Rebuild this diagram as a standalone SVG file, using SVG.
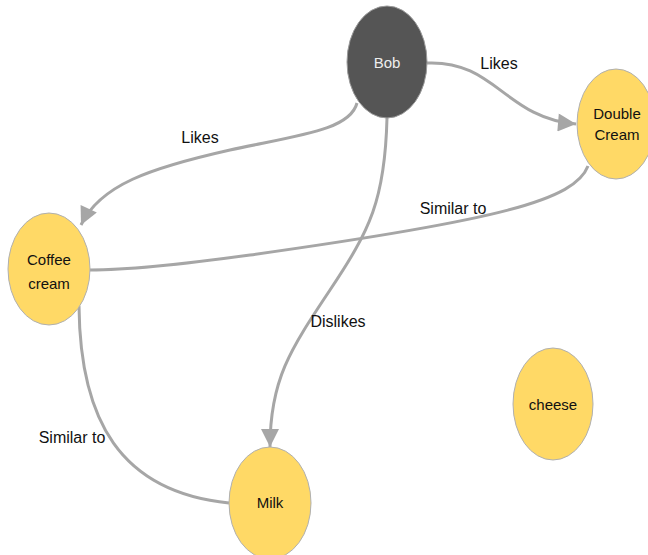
<svg xmlns="http://www.w3.org/2000/svg" width="648" height="555" viewBox="0 0 648 555">
<style>
.n{fill:#ffd966;stroke:#b0b0b0;stroke-width:1}
.b{fill:#555555;stroke:#9a9a9a;stroke-width:1}
.t{font-family:"Liberation Sans",Arial,sans-serif;font-size:15px;text-anchor:middle;fill:#111}
.tw{font-family:"Liberation Sans",Arial,sans-serif;font-size:15px;text-anchor:middle;fill:#eeeeee}
.e{fill:none;stroke:#a6a6a6;stroke-width:3}
.l{font-family:"Liberation Sans Narrow","Liberation Sans",Arial,sans-serif;font-size:16px;text-anchor:middle;fill:#111}
</style>
<defs>
<marker id="ah" viewBox="0 0 10 10" refX="10" refY="5" markerWidth="7" markerHeight="6" orient="auto" markerUnits="strokeWidth">
<path d="M0,0 L10,5 L0,10 z" fill="#a6a6a6"/>
</marker>
</defs>
<g id="edges">
<path class="e" d="M427,63 C495,60 505,118 576,124" marker-end="url(#ah)"/>
<path class="e" d="M357,103 C350,130 300,135 230,150 C150,168 100,185 81,225" marker-end="url(#ah)"/>
<path class="e" d="M387,118 C385,200 370,230 330,290 C290,350 270,380 270,447" marker-end="url(#ah)"/>
<path class="e" d="M588,166 C575,200 500,220 250,255 C170,266 120,270 90,270"/>
<path class="e" d="M79,306 C80,420 120,492 229,503"/>
<text class="l" x="499" y="69">Likes</text>
<text class="l" x="200" y="143">Likes</text>
<text class="l" x="453" y="214">Similar to</text>
<text class="l" x="338" y="327">Dislikes</text>
<text class="l" x="72" y="443">Similar to</text>
</g>
<g id="bob"><ellipse class="b" cx="387" cy="62" rx="40" ry="56"/><text class="tw" x="387" y="68">Bob</text></g>
<g id="double-cream"><ellipse class="n" cx="616" cy="124" rx="39" ry="55"/><text class="t" x="617" y="119">Double</text><text class="t" x="617" y="140">Cream</text></g>
<g id="coffee-cream"><ellipse class="n" cx="49" cy="269" rx="41" ry="56"/><text class="t" x="49" y="265">Coffee</text><text class="t" x="49" y="289">cream</text></g>
<g id="milk"><ellipse class="n" cx="270" cy="503" rx="41" ry="56"/><text class="t" x="270" y="508">Milk</text></g>
<g id="cheese"><ellipse class="n" cx="553" cy="404" rx="40" ry="56"/><text class="t" x="553" y="410">cheese</text></g>
</svg>
